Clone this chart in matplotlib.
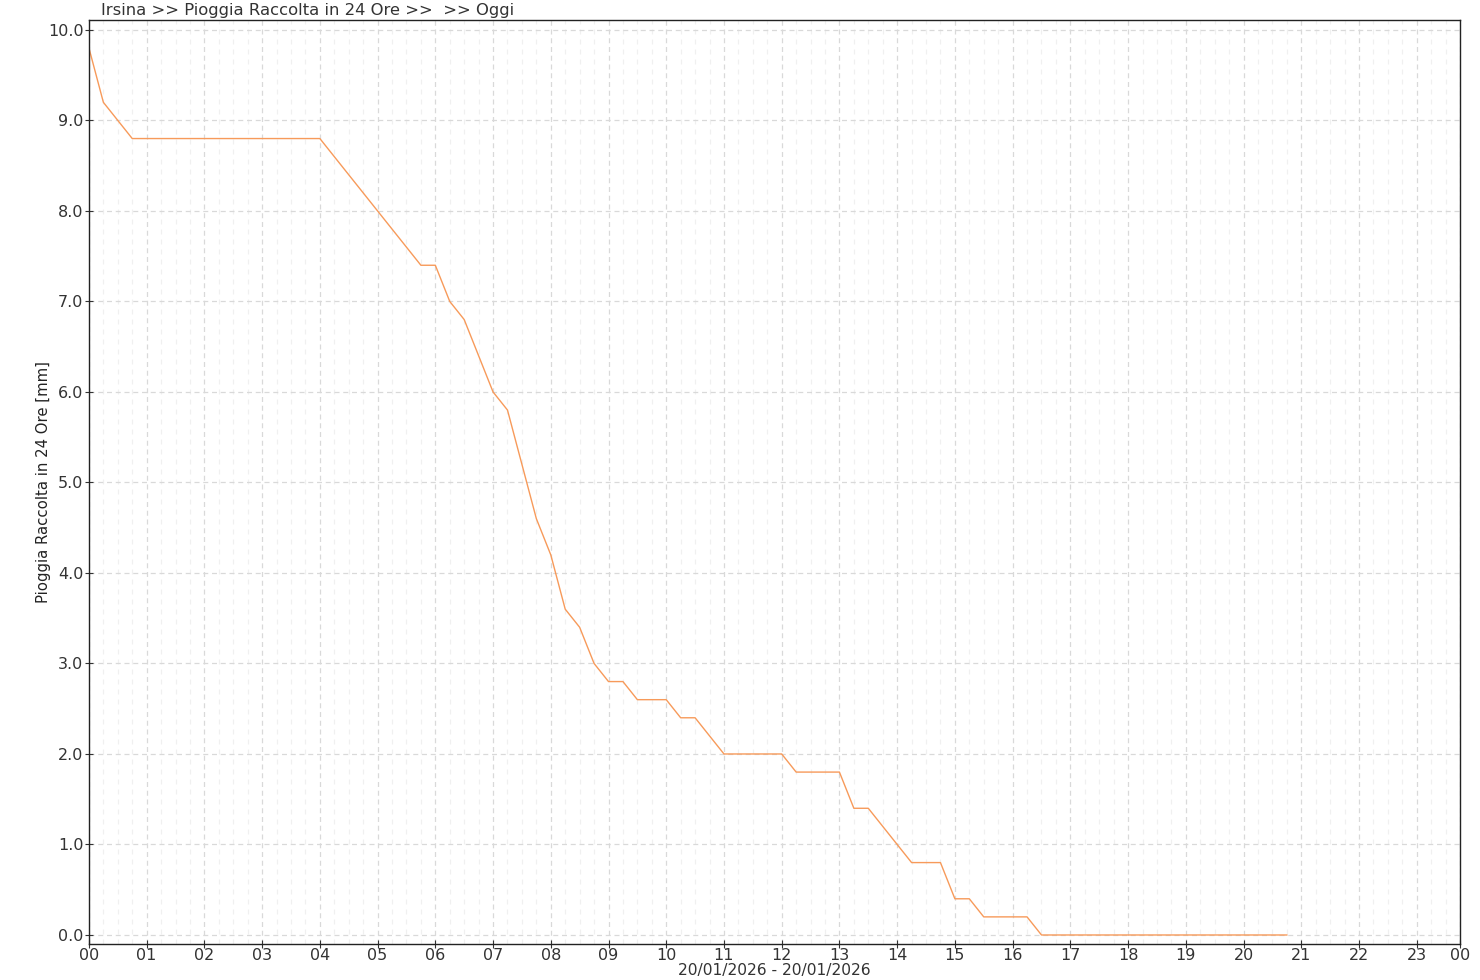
import matplotlib.pyplot as plt
import numpy as np


# pioggia raccolta ogni 15 minuti, dalle 00:00 alle 20:45
pioggia = [
    9.8, 9.2, 9.0, 8.8,
    8.8, 8.8, 8.8, 8.8, 8.8, 8.8, 8.8, 8.8, 8.8, 8.8, 8.8, 8.8, 8.8,
    8.6, 8.4, 8.2, 8.0, 7.8, 7.6, 7.4,
    7.4, 7.0, 6.8, 6.4, 6.0, 5.8, 5.2, 4.6,
    4.2, 3.6, 3.4, 3.0, 2.8, 2.8, 2.6, 2.6,
    2.6, 2.4, 2.4, 2.2, 2.0, 2.0, 2.0, 2.0,
    2.0, 1.8, 1.8, 1.8, 1.8, 1.4, 1.4, 1.2,
    1.0, 0.8, 0.8, 0.8, 0.4, 0.4, 0.2, 0.2,
    0.2, 0.2, 0.0, 0.0, 0.0, 0.0, 0.0, 0.0,
    0.0, 0.0, 0.0, 0.0, 0.0, 0.0, 0.0, 0.0,
    0.0, 0.0, 0.0, 0.0,
]
ore = np.arange(len(pioggia)) * 0.25

tick_ore = list(range(24)) + [23.75]
tick_label = ["%02d" % h for h in range(24)] + ["00"]
y_ticks = [0, 1, 2, 3, 4, 5, 6, 7, 8, 9, 10]

plt.rcParams["font.family"] = ["DejaVu Sans"]
fig = plt.figure(figsize=(14.8, 9.8), dpi=100)
ax = fig.add_axes([0.0601, 0.0367, 0.9264, 0.9429])

ax.plot(ore, pioggia, color="#f79a5a", lw=1.0)

ax.set_xlim(0, 23.75)
ax.set_ylim(-0.1, 10.11)
ax.set_xticks(tick_ore)
ax.set_xticklabels(tick_label)
ax.set_xticks(np.arange(0, 23.75, 0.25), minor=True)
ax.set_yticks(y_ticks)
ax.set_yticklabels(["%.1f" % v for v in y_ticks])

ax.grid(True, which="major", color="#d9d9d9", linestyle=(0, (4, 3)), lw=0.9)
ax.grid(True, which="minor", axis="x", color="#f0f0f0", linestyle=(0, (4, 4)), lw=0.9)
ax.set_axisbelow(True)

ax.tick_params(axis="both", which="major", direction="inout", length=6,
               width=0.8, labelsize=11.5, colors="#333333", pad=1)
ax.tick_params(axis="x", which="major", pad=0)
ax.tick_params(axis="both", which="minor", length=0)
for s in ax.spines.values():
    s.set_color("#222222")
    s.set_linewidth(1)

ax.set_ylabel("Pioggia Raccolta in 24 Ore [mm]", fontsize=10.7, color="#222222", labelpad=-2)
ax.set_xlabel("20/01/2026 - 20/01/2026", fontsize=11.2, color="#333333", labelpad=0)
fig.text(101 / 1480, 1 - 10 / 980, "Irsina >> Pioggia Raccolta in 24 Ore >>  >> Oggi",
         fontsize=11.8, color="#333333", va="center", ha="left")

fig.savefig("out.png", dpi=100)
